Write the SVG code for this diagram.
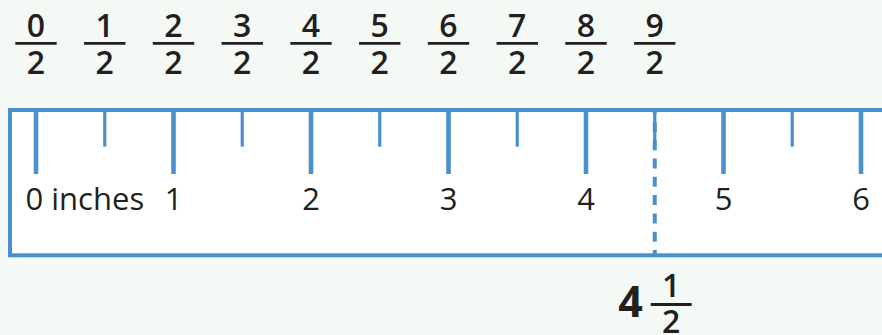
<svg xmlns="http://www.w3.org/2000/svg" width="882" height="335" viewBox="0 0 882 335">
<style>
.bg{fill:#f4f9f6}
.ruler{fill:#ffffff;stroke:#4a90cd;stroke-width:4}
.major{stroke:#4a90cd;stroke-width:4.6}
.minor{stroke:#4a90cd;stroke-width:3.2}
.dash{stroke:#4a90cd;stroke-width:4;stroke-dasharray:10 8.3;stroke-dashoffset:6.4}
.lbl{font-family:"Open Sans","DejaVu Sans",sans-serif;font-size:31px;fill:#231f20}
.fr{font-family:"Open Sans","DejaVu Sans",sans-serif;font-size:32px;font-weight:600;fill:#231f20;text-anchor:middle}
.bar{stroke:#231f20;stroke-width:2.8}
.big{font-family:"Open Sans","DejaVu Sans",sans-serif;font-size:43px;font-weight:700;fill:#231f20;text-anchor:middle}
</style>
<rect class="bg" x="0" y="0" width="882" height="335"/>
<g id="fractions">
<g id="f0"><text class="fr" x="36" y="36.5">0</text><line class="bar" x1="15.3" y1="43.3" x2="56.7" y2="43.3"/><text class="fr" x="36" y="73.5">2</text></g>
<g id="f1"><text class="fr" x="104.75" y="36.5">1</text><line class="bar" x1="84.05" y1="43.3" x2="125.45" y2="43.3"/><text class="fr" x="104.75" y="73.5">2</text></g>
<g id="f2"><text class="fr" x="173.5" y="36.5">2</text><line class="bar" x1="152.8" y1="43.3" x2="194.2" y2="43.3"/><text class="fr" x="173.5" y="73.5">2</text></g>
<g id="f3"><text class="fr" x="242.25" y="36.5">3</text><line class="bar" x1="221.55" y1="43.3" x2="262.95" y2="43.3"/><text class="fr" x="242.25" y="73.5">2</text></g>
<g id="f4"><text class="fr" x="311" y="36.5">4</text><line class="bar" x1="290.3" y1="43.3" x2="331.7" y2="43.3"/><text class="fr" x="311" y="73.5">2</text></g>
<g id="f5"><text class="fr" x="379.75" y="36.5">5</text><line class="bar" x1="359.05" y1="43.3" x2="400.45" y2="43.3"/><text class="fr" x="379.75" y="73.5">2</text></g>
<g id="f6"><text class="fr" x="448.5" y="36.5">6</text><line class="bar" x1="427.8" y1="43.3" x2="469.2" y2="43.3"/><text class="fr" x="448.5" y="73.5">2</text></g>
<g id="f7"><text class="fr" x="517.25" y="36.5">7</text><line class="bar" x1="496.55" y1="43.3" x2="537.95" y2="43.3"/><text class="fr" x="517.25" y="73.5">2</text></g>
<g id="f8"><text class="fr" x="586" y="36.5">8</text><line class="bar" x1="565.3" y1="43.3" x2="606.7" y2="43.3"/><text class="fr" x="586" y="73.5">2</text></g>
<g id="f9"><text class="fr" x="654.75" y="36.5">9</text><line class="bar" x1="634.05" y1="43.3" x2="675.45" y2="43.3"/><text class="fr" x="654.75" y="73.5">2</text></g>
</g>
<g id="ruler">
<rect class="ruler" x="10" y="110" width="900" height="145.3"/>
<g id="ticks">
<line class="major" x1="36" y1="110" x2="36" y2="174"/>
<line class="major" x1="173.5" y1="110" x2="173.5" y2="174"/>
<line class="major" x1="311" y1="110" x2="311" y2="174"/>
<line class="major" x1="448.5" y1="110" x2="448.5" y2="174"/>
<line class="major" x1="586" y1="110" x2="586" y2="174"/>
<line class="major" x1="723.5" y1="110" x2="723.5" y2="174"/>
<line class="major" x1="861" y1="110" x2="861" y2="174"/>
<line class="minor" x1="104.75" y1="110" x2="104.75" y2="146.7"/>
<line class="minor" x1="242.25" y1="110" x2="242.25" y2="146.7"/>
<line class="minor" x1="379.75" y1="110" x2="379.75" y2="146.7"/>
<line class="minor" x1="517.25" y1="110" x2="517.25" y2="146.7"/>
<line class="minor" x1="654.75" y1="110" x2="654.75" y2="146.7"/>
<line class="minor" x1="792.25" y1="110" x2="792.25" y2="146.7"/>
</g>
<g id="labels">
<text class="lbl" x="25.5" y="210">0 inches</text>
<text class="lbl" x="173.5" y="210" text-anchor="middle">1</text>
<text class="lbl" x="311" y="210" text-anchor="middle">2</text>
<text class="lbl" x="448.5" y="210" text-anchor="middle">3</text>
<text class="lbl" x="586" y="210" text-anchor="middle">4</text>
<text class="lbl" x="723.5" y="210" text-anchor="middle">5</text>
<text class="lbl" x="861" y="210" text-anchor="middle">6</text>
</g>
</g>
<g id="connectors">
<line class="dash" x1="654.75" y1="110" x2="654.75" y2="255"/>
</g>
<g id="mixed">
<text class="big" x="630.5" y="317">4</text>
<text class="fr" x="671.2" y="297">1</text>
<line class="bar" x1="650.7" y1="304.5" x2="691.7" y2="304.5"/>
<text class="fr" x="671.2" y="333">2</text>
</g>
</svg>
